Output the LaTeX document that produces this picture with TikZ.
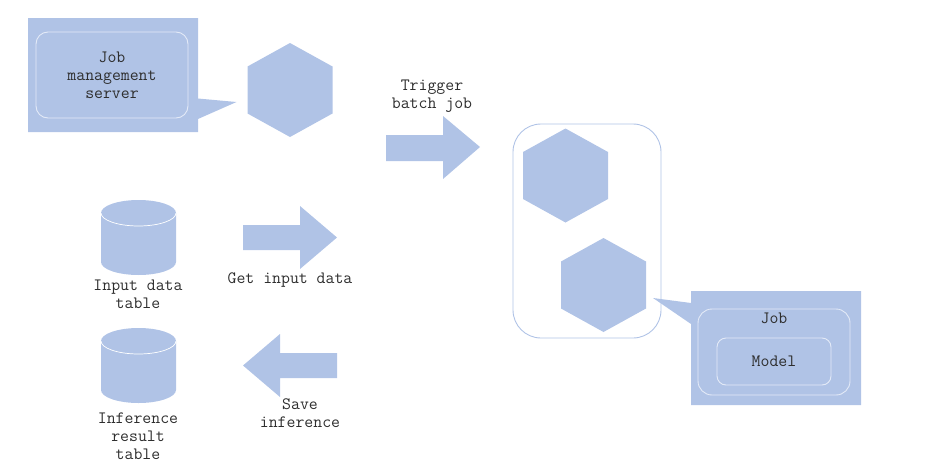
\documentclass[tikz,border=0pt]{standalone}
\usepackage{xcolor}
\usetikzlibrary{positioning}
\definecolor{shapeblue}{HTML}{B0C3E6}
\definecolor{boxline}{HTML}{E3EAF7}
\definecolor{labelgray}{HTML}{2E2E2E}
\tikzset{
  shapefill/.style={fill=shapeblue,draw=none},
  innerbox/.style={draw=boxline,line width=0.9pt,rounded corners=#1},
  lab/.style={font=\ttfamily\fontsize{17.3}{18}\selectfont,text=labelgray,align=center,inner sep=0pt}
}
\begin{document}
\begin{tikzpicture}[x=1pt,y=-1pt]
  \useasboundingbox (0,0) rectangle (932,474);
  % job management callout
  \fill[shapefill] (28,18) -- (198,18) -- (198,98.5) -- (236.5,102) -- (198,119) -- (198,132) -- (28,132) -- cycle;
  \draw[innerbox=12pt] (36,32) rectangle (188,118);
  \node[lab] (server) at (112,75.5) {Job\\management\\server};
  % job callout
  \fill[shapefill] (691,291) -- (861,291) -- (861,405) -- (691,405) -- (691,324) -- (653,298) -- (691,303) -- cycle;
  \draw[innerbox=14pt] (698,309) rectangle (850,395);
  \draw[innerbox=9pt] (717,338) rectangle (831,385);
  \node[lab] (job) at (774,318.5) {Job};
  \node[lab] (model) at (774,361.5) {Model};
  % pods
  \foreach \x/\y in {290/90,565.5/175.5,603.5/285} {
    \fill[shapefill] (\x,\y-47) -- (\x+42.5,\y-23.5) -- (\x+42.5,\y+23.5) -- (\x,\y+47)
      -- (\x-42.5,\y+23.5) -- (\x-42.5,\y-23.5) -- cycle;
  }
  \draw[draw=shapeblue,line width=0.9pt,rounded corners=28pt] (513,124) rectangle (661,338);
  % tables
  \foreach \y/\h in {200/75,328/75} {
    \fill[shapefill] (101,\y+13) arc[start angle=180,end angle=0,x radius=37.5,y radius=-13]
      -- (176,\y+\h-13) arc[start angle=0,end angle=-180,x radius=37.5,y radius=-13] -- cycle;
    \draw[white,line width=0.7pt] (101,\y+13) arc[start angle=180,end angle=360,x radius=37.5,y radius=-13];
  }
  \node[lab] (input) at (138,294.5) {Input data\\table};
  \node[lab] (result) at (138,436.5) {Inference\\result\\table};
  % block arrows
  \fill[shapefill] (386,135) -- (443,135) -- (443,116) -- (480,147) -- (443,179) -- (443,161) -- (386,161) -- cycle;
  \fill[shapefill] (243,225) -- (300,225) -- (300,206) -- (337,237.5) -- (300,269) -- (300,250) -- (243,250) -- cycle;
  \fill[shapefill] (337,353) -- (280,353) -- (280,334) -- (243,365.5) -- (280,397) -- (280,378) -- (337,378) -- cycle;
  \node[lab] (trigger) at (432,96.5) {Trigger\\batch job};
  \node[lab] (getdata) at (290,280.5) {Get input data};
  \node[lab] (save) at (300,413.5) {Save\\inference};
\end{tikzpicture}
\end{document}
